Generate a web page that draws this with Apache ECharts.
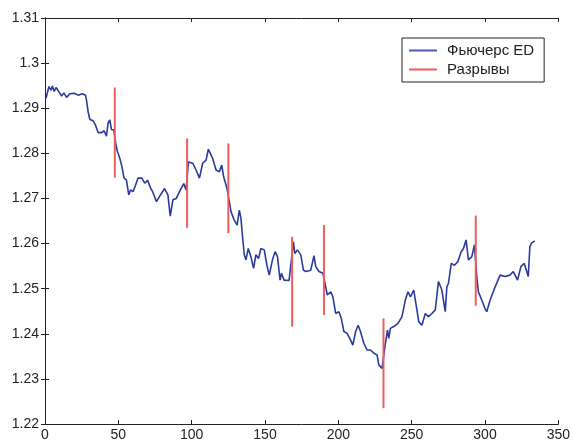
<!DOCTYPE html>
<html>
<head>
<meta charset="utf-8">
<script src="https://cdn.jsdelivr.net/npm/echarts@6/dist/echarts.min.js"></script>
<style>
  html, body { margin: 0; padding: 0; background: #fff; }
  #chart { width: 573px; height: 443px; }
</style>
</head>
<body>
<div id="chart"></div>
<script>
// Futures price series (time index, price)
const futX = [
  0.7, 1.8, 2.7, 4.1, 5.0, 6.3, 7.5, 8.6, 10.2, 11.3, 12.9, 14.7, 17.0, 19.9, 22.6, 25.4, 27.6, 28.3, 29.4, 30.6,
  32.8, 34.4, 36.2, 38.5, 40.3, 41.9, 43.0, 44.2, 45.3, 46.9,
  48.2, 49.4, 51.0, 52.5, 53.9, 55.5, 57.1, 58.4, 60.0, 61.6, 63.4, 66.0, 68.0, 70.0, 72.0, 73.4, 76.0, 78.0,
  81.5, 83.8, 85.4, 87.2, 89.5, 91.7, 94.6, 96.2,
  97.8, 100.8, 103.0, 105.3, 107.5, 109.8, 111.4, 114.3, 116.6, 118.9, 120.5, 121.8, 124.1,
  125.7, 126.8, 129.0, 131.0, 132.5, 133.6, 134.7, 135.9, 137.0, 138.6, 140.4, 142.2, 143.8, 145.6, 147.2,
  149.5, 151.3, 152.9, 155.1, 156.9, 158.5, 160.3, 161.2, 163.0, 166.4,
  169.4, 170.3, 172.1, 174.4, 176.2, 177.8, 181.2, 183.4, 184.6, 186.8, 189.5,
  191.4, 192.5, 194.8, 196.3, 198.2, 200.4, 202.0, 203.8, 206.0, 208.4, 209.9, 211.8, 213.5, 215.1, 217.4,
  219.6, 221.9, 224.2, 226.4, 227.6, 229.8,
  232.1, 233.5, 234.4, 235.5, 237.8, 240.7, 243.4, 245.7, 247.5, 249.3, 251.4, 253.6, 254.8, 257.0, 259.3,
  261.5, 263.8, 266.1, 268.3, 270.6, 272.9, 274.0, 275.1, 277.0, 279.2, 281.5, 283.8, 285.3, 287.1, 288.7,
  291.0, 292.8,
  294.4, 295.5, 297.8, 300.0, 301.2, 303.5, 306.9, 310.3, 313.7, 317.0, 319.3, 322.2, 324.5, 326.8, 329.5,
  330.6, 331.7, 334.0
];
const futY = [
  1.2922, 1.2937, 1.2948, 1.2940, 1.2949, 1.2937, 1.2946, 1.2949, 1.2933, 1.2927, 1.2934, 1.2924, 1.2932, 1.2933, 1.2929, 1.2932, 1.2929, 1.2918, 1.2892, 1.2875,
  1.2872, 1.2863, 1.2846, 1.2846, 1.2850, 1.2838, 1.2867, 1.2874, 1.2853, 1.2852,
  1.2822, 1.2804, 1.2789, 1.2770, 1.2745, 1.2741, 1.2708, 1.2719, 1.2715, 1.2728, 1.2745, 1.2745, 1.2734, 1.2740, 1.2723, 1.2715, 1.2693, 1.2704,
  1.2722, 1.2708, 1.2661, 1.2697, 1.2700, 1.2715, 1.2733, 1.2719,
  1.2781, 1.2778, 1.2763, 1.2745, 1.2778, 1.2785, 1.2809, 1.2789, 1.2763, 1.2759, 1.2774, 1.2748, 1.2722,
  1.2693, 1.2671, 1.2652, 1.2641, 1.2674, 1.2656, 1.2615, 1.2575, 1.2564, 1.2589, 1.2571, 1.2545, 1.2575, 1.2567, 1.2589,
  1.2586, 1.2552, 1.2530, 1.2564, 1.2582, 1.2571, 1.2519, 1.2534, 1.2519, 1.2518,
  1.2604, 1.2578, 1.2586, 1.2575, 1.2541, 1.2538, 1.2541, 1.2573, 1.2549, 1.2538, 1.2534,
  1.2504, 1.2486, 1.2493, 1.2482, 1.2445, 1.2449, 1.2434, 1.2405, 1.2401, 1.2386, 1.2375, 1.2405, 1.2419, 1.2405, 1.2379,
  1.2364, 1.2364, 1.2357, 1.2353, 1.2331, 1.2323,
  1.2379, 1.2408, 1.2390, 1.2412, 1.2416, 1.2423, 1.2438, 1.2475, 1.2493, 1.2482, 1.2497, 1.2453, 1.2427, 1.2419, 1.2445,
  1.2438, 1.2445, 1.2453, 1.2516, 1.2497, 1.2449, 1.2504, 1.2512, 1.2556, 1.2552, 1.2560, 1.2582, 1.2589, 1.2608, 1.2564,
  1.2571, 1.2597,
  1.2527, 1.2493, 1.2475, 1.2456, 1.2449, 1.2475, 1.2504, 1.2530, 1.2527, 1.2530, 1.2538, 1.2519, 1.2549, 1.2556, 1.2527,
  1.2593, 1.2601, 1.2606
];

// Gap markers: position, upper and lower ends
const gapX    = [47.6, 96.9, 125.0, 168.5, 190.2, 230.8, 293.7];
const gapTop  = [1.2946, 1.2833, 1.2822, 1.2615, 1.2641, 1.2434, 1.2662];
const gapBot  = [1.2746, 1.2635, 1.2623, 1.2416, 1.2442, 1.2235, 1.2462];

const xTicks = [0, 50, 100, 150, 200, 250, 300, 350];
const yTicks = [1.22, 1.23, 1.24, 1.25, 1.26, 1.27, 1.28, 1.29, 1.3, 1.31];

const seriesName = 'Фьючерс ED';
const gapName = 'Разрывы';

const BLUE = '#2a3b9e';
const RED = '#f25b5b';
const FONT = 'Liberation Sans, Arial, sans-serif';

const chart = echarts.init(document.getElementById('chart'), null, { renderer: 'canvas' });

const axisCommon = {
  type: 'value',
  axisLine: { show: true, lineStyle: { color: '#222', width: 1 } },
  axisTick: { show: true, inside: true, length: 4, lineStyle: { color: '#222' } },
  splitLine: { show: false }
};

const futData = futX.map((x, i) => [x, futY[i]]);

const gapSeries = gapX.map((x, i) => ({
  name: gapName,
  type: 'line',
  data: [[x, gapTop[i]], [x, gapBot[i]]],
  showSymbol: false,
  symbol: 'none',
  lineStyle: { color: RED, width: 2 },
  itemStyle: { color: RED },
  z: 5,
  animation: false
}));

chart.setOption({
  backgroundColor: '#fff',
  animation: false,
  grid: { left: 45, right: 13, top: 18, bottom: 19, containLabel: false },
  legend: {
    data: [
      { name: seriesName, icon: 'rect', itemStyle: { color: '#4a5cc0' } },
      { name: gapName, icon: 'rect', itemStyle: { color: RED } }
    ],
    orient: 'vertical',
    left: 402,
    top: 38,
    itemWidth: 28,
    itemHeight: 2,
    itemGap: 4,
    padding: [5, 10, 5, 7],
    borderColor: '#222',
    borderWidth: 1,
    backgroundColor: '#fff',
    textStyle: { fontFamily: FONT, fontSize: 15, color: '#222', padding: [0, 0, 0, 5] }
  },
  xAxis: [
    Object.assign({}, axisCommon, {
      position: 'bottom', min: xTicks[0], max: xTicks[xTicks.length - 1], interval: 50,
      axisLabel: { show: true, margin: 4, fontFamily: FONT, fontSize: 14, color: '#222' }
    }),
    Object.assign({}, axisCommon, {
      position: 'top', min: xTicks[0], max: xTicks[xTicks.length - 1], interval: 50,
      axisLabel: { show: false }
    })
  ],
  yAxis: [
    Object.assign({}, axisCommon, {
      position: 'left', min: yTicks[0], max: yTicks[yTicks.length - 1], interval: 0.01,
      axisLabel: {
        show: true, margin: 6, fontFamily: FONT, fontSize: 14, color: '#222',
        formatter: v => String(+v.toFixed(2))
      }
    }),
    Object.assign({}, axisCommon, {
      position: 'right', min: yTicks[0], max: yTicks[yTicks.length - 1], interval: 0.01,
      axisLabel: { show: false }
    })
  ],
  series: [
    {
      name: seriesName,
      type: 'line',
      data: futData,
      showSymbol: false,
      symbol: 'none',
      lineStyle: { color: BLUE, width: 1.6 },
      itemStyle: { color: BLUE },
      z: 3
    }
  ].concat(gapSeries)
});
</script>
</body>
</html>
